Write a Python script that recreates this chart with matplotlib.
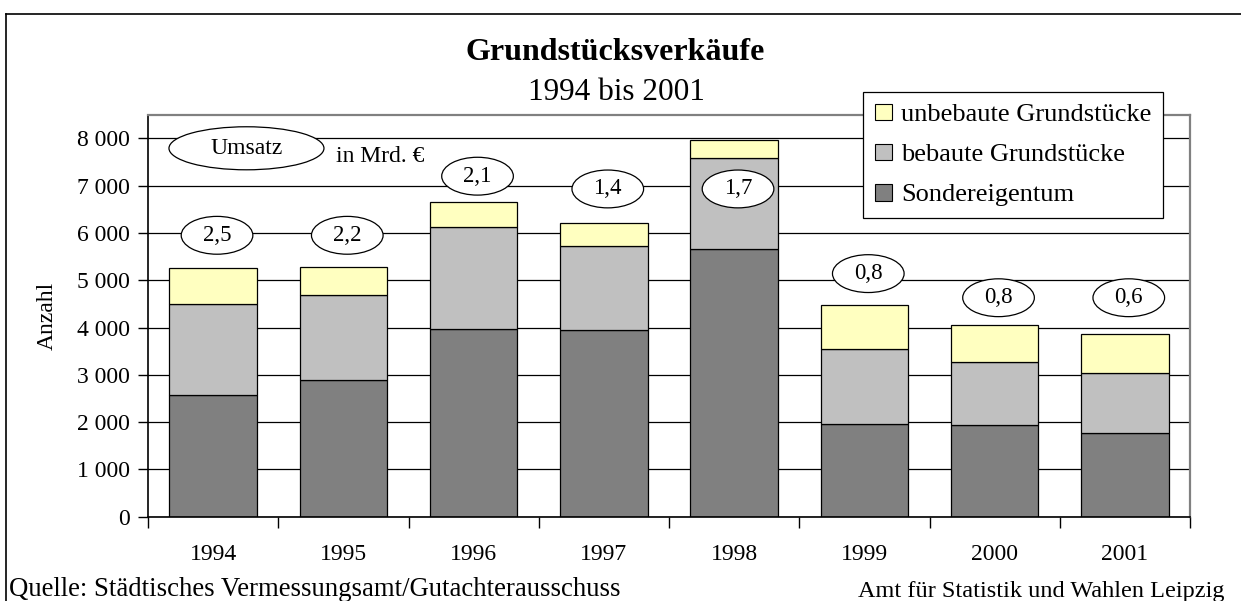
import matplotlib
matplotlib.use("Agg")
import matplotlib.pyplot as plt
from matplotlib.patches import Ellipse, Patch
from matplotlib.lines import Line2D

plt.rcParams['font.family'] = ['Liberation Serif', 'DejaVu Serif']

years = ["1994", "1995", "1996", "1997", "1998", "1999", "2000", "2001"]
sondereigentum = [2580, 2890, 3960, 3950, 5650, 1970, 1940, 1760]
bebaut = [1920, 1800, 2160, 1780, 1930, 1570, 1330, 1270]
unbebaut = [750, 600, 540, 470, 380, 940, 780, 830]
umsatz = ["2,5", "2,2", "2,1", "1,4", "1,7", "0,8", "0,8", "0,6"]
umsatz_label_y = [5950, 5950, 7200, 6930, 6930, 5140, 4630, 4630]
yticks = [0, 1000, 2000, 3000, 4000, 5000, 6000, 7000, 8000]
ytick_labels = ["0", "1 000", "2 000", "3 000", "4 000", "5 000", "6 000", "7 000", "8 000"]

c_sonder = "#808080"
c_bebaut = "#C0C0C0"
c_unbebaut = "#FFFFC0"

W, H = 1241, 601
fig = plt.figure(figsize=(W / 100, H / 100), dpi=100)
ax = fig.add_axes([148 / W, (H - 516.7) / H, (1190 - 148) / W, (516.7 - 114.7) / H])

x = list(range(len(years)))
bw = 0.67
ax.bar(x, sondereigentum, bw, color=c_sonder, edgecolor="black", linewidth=0.9, zorder=3)
ax.bar(x, bebaut, bw, bottom=sondereigentum, color=c_bebaut, edgecolor="black", linewidth=0.9, zorder=3)
bottom2 = [a + b for a, b in zip(sondereigentum, bebaut)]
ax.bar(x, unbebaut, bw, bottom=bottom2, color=c_unbebaut, edgecolor="black", linewidth=0.9, zorder=3)

ax.set_xlim(-0.5, len(years) - 0.5)
ax.set_ylim(0, 8500)
ax.set_yticks(yticks)
ax.set_yticklabels(ytick_labels, fontsize=17)
ax.set_xticks([i + 0.5 for i in range(-1, len(years))])
ax.set_xticklabels([])
ax.set_xticks(x, minor=True)
ax.set_xticklabels(years, minor=True, fontsize=17)
ax.tick_params(axis="x", which="major", length=8, width=1, direction="out", color="black")
ax.tick_params(axis="x", which="minor", length=0, pad=20)
ax.tick_params(axis="y", length=7, width=1, direction="out", pad=6)

ax.grid(axis="y", color="black", linewidth=0.9, zorder=0)
ax.set_axisbelow(True)
for s in ["top", "right"]:
    ax.spines[s].set_color("#808080")
    ax.spines[s].set_linewidth(1.6)
for s in ["left", "bottom"]:
    ax.spines[s].set_color("black")
    ax.spines[s].set_linewidth(1.2)
ax.spines["bottom"].set_zorder(4)

# Umsatz ellipses
for i, (lab, yy) in enumerate(zip(umsatz, umsatz_label_y)):
    e = Ellipse((i + 0.03, yy), 0.55, 800, facecolor="white", edgecolor="black", linewidth=0.9, zorder=5)
    ax.add_patch(e)
    ax.text(i + 0.03, yy, lab, ha="center", va="center", fontsize=16.5, zorder=6)

e = Ellipse((0.256, 7790), 1.19, 910, facecolor="white", edgecolor="black", linewidth=0.9, zorder=5)
ax.add_patch(e)
ax.text(0.256, 7790, "Umsatz", ha="center", va="center", fontsize=17, zorder=6)
ax.text(1.286, 7610, "in Mrd. €", ha="center", va="center", fontsize=17, zorder=6)

# Legend
handles = [Patch(facecolor=c_unbebaut, edgecolor="black", linewidth=0.8),
           Patch(facecolor=c_bebaut, edgecolor="black", linewidth=0.8),
           Patch(facecolor=c_sonder, edgecolor="black", linewidth=0.8)]
labels = ["unbebaute Grundstücke", "bebaute Grundstücke", "Sondereigentum"]
leg = ax.legend(handles, labels, loc="upper left", bbox_to_anchor=(863 / W, 1 - 91.7 / H),
                bbox_transform=fig.transFigure, frameon=True, fancybox=False, edgecolor="black",
                framealpha=1, fontsize=19, handlelength=0.64, handleheight=0.6, handletextpad=0.35,
                borderpad=0.45, labelspacing=0.66, borderaxespad=0)
leg.get_frame().set_linewidth(0.9)
leg.set_zorder(10)

# Titles and texts
fig.text(615 / W, 1 - 60 / H, "Grundstücksverkäufe", ha="center", va="baseline", fontsize=23, fontweight="bold")
fig.text(616 / W, 1 - 100 / H, "1994 bis 2001", ha="center", va="baseline", fontsize=22.5)
fig.text(47 / W, 1 - 316 / H, "Anzahl", ha="center", va="center", rotation=90, fontsize=17)
fig.text(9 / W, 1 - 595.5 / H, "Quelle: Städtisches Vermessungsamt/Gutachterausschuss", ha="left", va="baseline", fontsize=19.3)
fig.text(1225 / W, 1 - 597 / H, "Amt für Statistik und Wahlen Leipzig", ha="right", va="baseline", fontsize=17.5)

# Outer frame (left and top visible)
fig.add_artist(Line2D([6 / W, 6 / W], [0, 1 - 14 / H], transform=fig.transFigure, color="black", linewidth=1.2))
fig.add_artist(Line2D([6 / W, 1], [1 - 14 / H, 1 - 14 / H], transform=fig.transFigure, color="black", linewidth=1.2))

fig.savefig("out.png", dpi=100)
